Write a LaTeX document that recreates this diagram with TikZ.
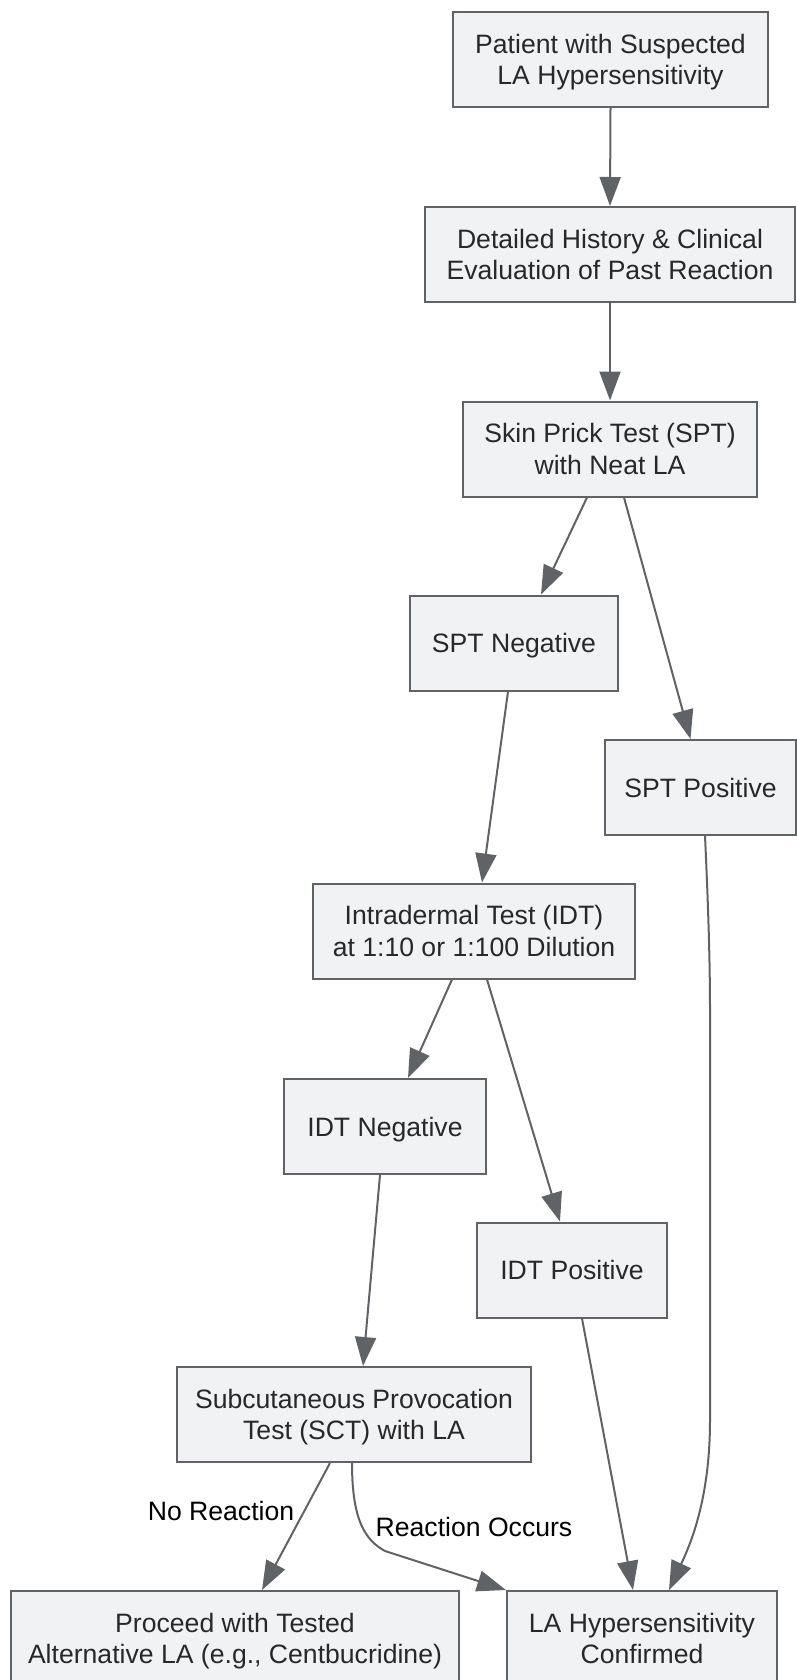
\documentclass[tikz,border=0pt]{standalone}
\usepackage{fontspec}
\setmainfont{Liberation Sans}
\usetikzlibrary{arrows.meta}
\definecolor{edgecol}{RGB}{95,99,104}
\definecolor{boxfill}{RGB}{241,242,244}
\definecolor{txtcol}{RGB}{40,40,40}
\tikzset{
  box/.style={draw=edgecol, fill=boxfill, line width=2pt, rectangle, align=center,
    inner sep=0pt, minimum height=95pt, text=txtcol, text depth=0pt,
    font=\fontsize{26.6}{31.5}\selectfont},
  conn/.style={draw=edgecol, line width=2pt, -{Triangle[length=29pt,width=21pt]}},
  lbl/.style={text=black, font=\fontsize{26.6}{31.5}\selectfont, inner sep=0pt}
}
\begin{document}
\begin{tikzpicture}[x=1pt,y=-1pt]
\useasboundingbox (0,0) rectangle (796,1680);
\node[box, minimum width=315pt] (n1) at (610.5,59.5) {Patient with Suspected\\LA Hypersensitivity};
\node[box, minimum width=370pt] (n2) at (610,254.5) {Detailed History \& Clinical\\Evaluation of Past Reaction};
\node[box, minimum width=294pt] (n3) at (610,449) {Skin Prick Test (SPT)\\with Neat LA};
\node[box, minimum width=208pt] (n4) at (514,643) {SPT Negative};
\node[box, minimum width=191pt] (n5) at (700.5,787.5) {SPT Positive};
\node[box, minimum width=322pt] (n6) at (474,931) {Intradermal Test (IDT)\\at 1:10 or 1:100 Dilution};
\node[box, minimum width=202pt] (n7) at (385,1126.5) {IDT Negative};
\node[box, minimum width=190pt] (n8) at (572,1270) {IDT Positive};
\node[box, minimum width=354pt] (n9) at (354,1414.5) {Subcutaneous Provocation\\Test (SCT) with LA};
\node[box, minimum width=448pt] (n10) at (235,1638.5) {Proceed with Tested\\Alternative LA (e.g., Centbucridine)};
\node[box, minimum width=270pt] (n11) at (642,1638.5) {LA Hypersensitivity\\Confirmed};

\draw[conn] (n1.south) -- (n2.north);
\draw[conn] (n2.south) -- (n3.north);
\draw[conn] ([xshift=-23pt]n3.south) -- ([xshift=27pt]n4.north);
\draw[conn] ([xshift=14pt]n3.south) -- ([xshift=-10pt]n5.north);
\draw[conn] ([xshift=-6pt]n4.south) -- ([xshift=8pt]n6.north);
\draw[conn] ([xshift=-22pt]n6.south) -- ([xshift=23pt]n7.north);
\draw[conn] ([xshift=13pt]n6.south) -- ([xshift=-12pt]n8.north);
\draw[conn] ([xshift=-5pt]n7.south) -- ([xshift=9pt]n9.north);
\draw[conn] ([xshift=10pt]n8.south) -- ([xshift=-9pt]n11.north);
\draw[conn] ([xshift=4.5pt]n5.south) .. controls (708,900) and (710,960) .. (710,1010)
  -- (710,1420) .. controls (710,1500) and (690,1545) .. ([xshift=27pt]n11.north);
\draw[conn] ([xshift=-24pt]n9.south) -- ([xshift=27pt]n10.north);
\draw[conn] ([xshift=-2pt]n9.south) .. controls (352,1520) and (365,1540) .. (385,1551)
  -- (n11.north west);
\node[lbl] (l1) at (221,1511) {No Reaction};
\node[lbl] (l2) at (474,1527) {Reaction Occurs};
\end{tikzpicture}
\end{document}
